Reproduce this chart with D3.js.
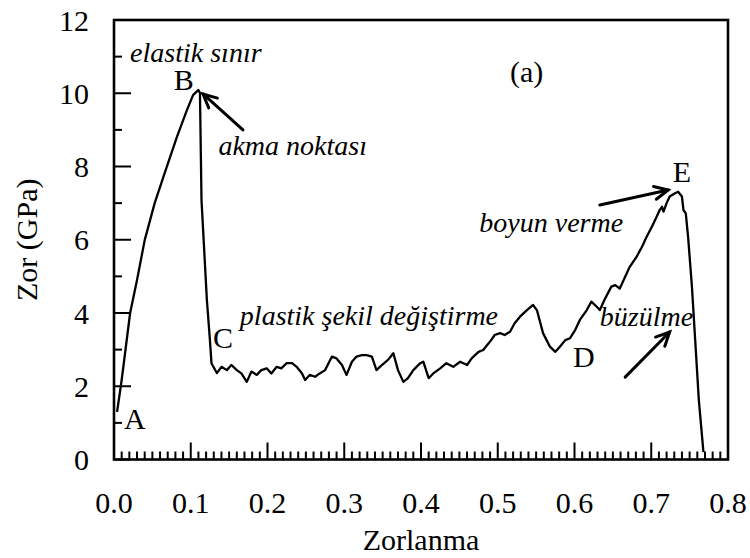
<!DOCTYPE html>
<html>
<head>
<meta charset="utf-8">
<script src="https://cdn.jsdelivr.net/npm/d3@7"></script>
<style>
  body { margin: 0; background: #fff; }
  text { font-family: "Liberation Serif", "Times New Roman", serif; fill: #000; }
</style>
</head>
<body>
<script>
// strain (Zorlanma) and stress (Zor, GPa)
var strain = [0.004, 0.010, 0.021, 0.030, 0.040, 0.053, 0.066, 0.082, 0.095, 0.103, 0.110,
  0.112, 0.114, 0.121, 0.125, 0.127, 0.134,
  0.140, 0.147, 0.153, 0.160, 0.166, 0.173, 0.179, 0.186, 0.192, 0.199, 0.205, 0.212,
  0.218, 0.225, 0.232, 0.238, 0.245, 0.249, 0.255, 0.262, 0.268, 0.275, 0.284, 0.290,
  0.297, 0.303, 0.310, 0.316, 0.323, 0.329, 0.336, 0.342, 0.349, 0.357, 0.364, 0.370,
  0.377, 0.383, 0.390, 0.399, 0.403, 0.410, 0.416, 0.425, 0.433, 0.442, 0.451, 0.460,
  0.466, 0.475, 0.481, 0.490, 0.496, 0.503, 0.509, 0.516, 0.522, 0.529, 0.538, 0.546,
  0.551, 0.559, 0.568, 0.575, 0.581, 0.588, 0.594, 0.601, 0.607, 0.616, 0.622, 0.629,
  0.633, 0.640, 0.648, 0.653, 0.659, 0.666, 0.672, 0.681, 0.688, 0.694, 0.701, 0.707,
  0.711, 0.714, 0.716, 0.720, 0.724, 0.731, 0.735, 0.740, 0.742, 0.745, 0.748, 0.753,
  0.757, 0.762, 0.768];
var stress = [1.30, 2.17, 4.00, 4.90, 5.99, 7.00, 7.82, 8.81, 9.54, 9.95, 10.09,
  10.00, 7.09, 4.36, 3.26, 2.63, 2.36,
  2.53, 2.44, 2.58, 2.44, 2.35, 2.12, 2.40, 2.31, 2.44, 2.49, 2.35, 2.53,
  2.49, 2.63, 2.63, 2.53, 2.35, 2.17, 2.31, 2.26, 2.35, 2.44, 2.81, 2.76,
  2.58, 2.31, 2.67, 2.81, 2.85, 2.85, 2.81, 2.44, 2.58, 2.72, 2.90, 2.44,
  2.12, 2.22, 2.44, 2.63, 2.67, 2.22, 2.35, 2.49, 2.63, 2.53, 2.67, 2.58,
  2.76, 2.94, 2.99, 3.22, 3.40, 3.45, 3.40, 3.49, 3.72, 3.90, 4.08, 4.22,
  4.08, 3.45, 3.08, 2.94, 3.08, 3.26, 3.31, 3.54, 3.81, 4.08, 4.31, 4.17,
  4.08, 4.40, 4.72, 4.76, 4.67, 4.99, 5.26, 5.54, 5.81, 6.08, 6.36, 6.63,
  6.81, 6.90, 6.77, 7.00, 7.18, 7.27, 7.31, 7.18, 6.81, 6.72, 6.08, 4.72,
  3.35, 1.62, 0.20];

var xTicks = [0, 0.1, 0.2, 0.3, 0.4, 0.5, 0.6, 0.7, 0.8];
var yTicks = [0, 2, 4, 6, 8, 10, 12];

// point labels and notes: [text, x, y]
var letters = [["A", 0.013, 0.83], ["B", 0.078, 10.09], ["C", 0.129, 3.04],
  ["D", 0.598, 2.53], ["E", 0.728, 7.58], ["(a)", 0.516, 10.31]];
var notes = [["elastik sınır", 0.021, 10.85], ["akma noktası", 0.136, 8.31],
  ["plastik şekil değiştirme", 0.164, 3.67], ["boyun verme", 0.476, 6.21],
  ["büzülme", 0.633, 3.65]];
// arrows: [x0, y0, x1 (tip), y1 (tip)]
var arrows = [[0.168, 9.0, 0.116, 9.98], [0.633, 6.95, 0.722, 7.36], [0.666, 2.25, 0.724, 3.48]];

var svgWidth = 750, svgHeight = 558;
var plotLeft = 114, plotRight = 728, plotTop = 20, plotBottom = 459.5;

var svg = d3.select("body").append("svg")
  .attr("width", svgWidth)
  .attr("height", svgHeight);

var x = d3.scaleLinear().domain([0, 0.8]).range([plotLeft, plotRight]);
var y = d3.scaleLinear().domain([0, 12]).range([plotBottom, plotTop]);

// minor + major ticks, all pointing inward
var xMinor = d3.range(0, 81).map(d => d / 100);
var yMinor = d3.range(0, 13);

svg.append("g").selectAll("line").data(xMinor).enter().append("line")
  .attr("x1", d => x(d)).attr("x2", d => x(d))
  .attr("y1", plotBottom).attr("y2", d => plotBottom - (Math.round(d * 100) % 10 == 0 ? 17 : 8))
  .attr("stroke", "#000").attr("stroke-width", 2);

svg.append("g").selectAll("line").data(yMinor).enter().append("line")
  .attr("y1", d => y(d)).attr("y2", d => y(d))
  .attr("x1", plotLeft).attr("x2", d => plotLeft + (d % 2 == 0 ? 17 : 8))
  .attr("stroke", "#000").attr("stroke-width", 2);

// frame
svg.append("rect")
  .attr("x", plotLeft).attr("y", plotTop)
  .attr("width", plotRight - plotLeft).attr("height", plotBottom - plotTop)
  .attr("fill", "none").attr("stroke", "#000").attr("stroke-width", 2.6);

// tick labels
svg.append("g").selectAll("text").data(xTicks).enter().append("text")
  .attr("x", d => x(d)).attr("y", 513)
  .attr("text-anchor", "middle").attr("font-size", 30)
  .text(d => d.toFixed(1));

svg.append("g").selectAll("text").data(yTicks).enter().append("text")
  .attr("x", 89).attr("y", d => y(d)).attr("dy", "0.35em")
  .attr("text-anchor", "end").attr("font-size", 30)
  .text(d => d);

// axis titles
svg.append("text")
  .attr("x", (plotLeft + plotRight) / 2).attr("y", 550)
  .attr("text-anchor", "middle").attr("font-size", 30)
  .text("Zorlanma");

svg.append("text")
  .attr("transform", "translate(37," + ((plotTop + plotBottom) / 2) + ") rotate(-90)")
  .attr("text-anchor", "middle").attr("font-size", 30)
  .text("Zor (GPa)");

// curve
var pts = strain.map((s, i) => [s, stress[i]]);
var line = d3.line().x(d => x(d[0])).y(d => y(d[1]));

svg.append("path")
  .datum(pts)
  .attr("d", line)
  .attr("fill", "none")
  .attr("stroke", "#000")
  .attr("stroke-width", 2.3)
  .attr("stroke-linejoin", "round");

// labels
svg.append("g").selectAll("text").data(letters).enter().append("text")
  .attr("x", d => x(d[1])).attr("y", d => y(d[2]))
  .attr("font-size", 30)
  .text(d => d[0]);

svg.append("g").selectAll("text").data(notes).enter().append("text")
  .attr("x", d => x(d[1])).attr("y", d => y(d[2]))
  .attr("font-size", 28).attr("font-style", "italic")
  .text(d => d[0]);

// arrows
var ag = svg.append("g").attr("stroke", "#000").attr("stroke-width", 3)
  .attr("fill", "none").attr("stroke-linecap", "round");
arrows.forEach(a => {
  var x0 = x(a[0]), y0 = y(a[1]), x1 = x(a[2]), y1 = y(a[3]);
  var ang = Math.atan2(y1 - y0, x1 - x0);
  var len = 15, spread = 0.45;
  ag.append("line").attr("x1", x0).attr("y1", y0).attr("x2", x1).attr("y2", y1);
  ag.append("polyline")
    .attr("stroke-linejoin", "miter")
    .attr("points", [
      [x1 - len * Math.cos(ang - spread), y1 - len * Math.sin(ang - spread)],
      [x1, y1],
      [x1 - len * Math.cos(ang + spread), y1 - len * Math.sin(ang + spread)]
    ].map(p => p.join(",")).join(" "));
});
</script>
</body>
</html>
